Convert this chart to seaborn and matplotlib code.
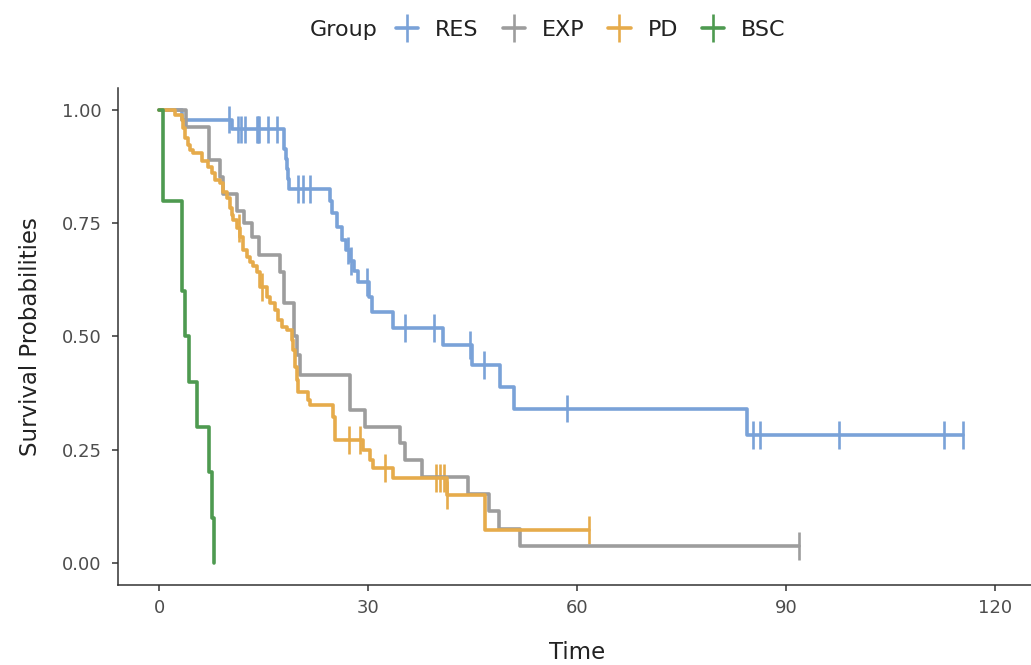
import numpy as np
import pandas as pd
import seaborn as sns
import matplotlib.pyplot as plt
from matplotlib.lines import Line2D

# Kaplan-Meier step curves (time where S changes, S after)
groups = ["RES", "EXP", "PD", "BSC"]
colors = ["#7aa2d8", "#9d9d9d", "#e6ab4b", "#4e9a50"]

res_time = [0, 3.3, 10.4, 17.9, 18.0, 18.2, 18.35, 18.5, 18.7, 24.5, 24.8, 25.5, 26.2,
            26.9, 27.4, 28.0, 28.5, 30.2, 30.5, 33.6, 40.8, 44.9, 48.9, 50.9, 84.4]
res_surv = [1.0, 0.979, 0.957, 0.935, 0.913, 0.891, 0.869, 0.847, 0.826, 0.80, 0.772, 0.742, 0.713,
            0.69, 0.667, 0.644, 0.621, 0.588, 0.555, 0.518, 0.481, 0.437, 0.389, 0.341, 0.283]
res_cens = [9.98, 11.3, 11.8, 12.3, 14.0, 14.2, 14.4, 15.6, 16.9, 20.0, 20.7, 21.7, 27.15,
            27.6, 29.9, 35.3, 39.5, 44.6, 46.6, 58.6, 85.3, 86.3, 97.6, 112.7, 115.5]

exp_time = [0, 3.8, 7.1, 8.75, 9.2, 11.2, 12.2, 13.3, 14.3, 17.4, 17.9, 19.3, 19.8, 20.2,
            27.4, 29.6, 34.6, 35.3, 37.7, 44.4, 47.3, 48.8, 51.8]
exp_surv = [1.0, 0.963, 0.889, 0.852, 0.815, 0.778, 0.75, 0.72, 0.68, 0.643, 0.573, 0.50, 0.46, 0.415,
            0.338, 0.301, 0.264, 0.227, 0.19, 0.152, 0.114, 0.076, 0.038]
exp_cens = [91.9]

pd_time = [0, 2.3, 3.26, 3.49, 3.73, 4.21, 4.45, 4.92, 6.13, 7.08, 7.56, 8.04, 8.76, 9.23,
           9.72, 10.19, 10.43, 10.66, 11.15, 11.63, 12.10, 12.59, 13.06, 13.54, 14.02, 14.50,
           15.46, 15.93, 16.65, 17.12, 17.61, 18.33, 19.05, 19.28, 19.52, 19.76, 19.99, 21.43,
           21.67, 25.02, 25.26, 29.32, 30.29, 30.76, 33.63, 41.3, 46.79]
pd_surv = [1.0, 0.989, 0.978, 0.96, 0.938, 0.923, 0.912, 0.904, 0.887, 0.875, 0.86, 0.845, 0.838, 0.82,
           0.805, 0.783, 0.768, 0.757, 0.739, 0.72, 0.69, 0.675, 0.664, 0.655, 0.643, 0.61,
           0.588, 0.573, 0.558, 0.536, 0.522, 0.514, 0.492, 0.47, 0.433, 0.404, 0.378, 0.36,
           0.348, 0.323, 0.272, 0.25, 0.227, 0.209, 0.187, 0.15, 0.073]
pd_cens = [11.5, 14.7, 27.3, 28.8, 32.4, 39.8, 40.4, 40.9, 41.4, 61.8]

bsc_time = [0, 0.6, 3.25, 3.7, 4.35, 5.5, 7.2, 7.55, 7.9]
bsc_surv = [1.0, 0.8, 0.6, 0.5, 0.4, 0.3, 0.2, 0.1, 0.0]
bsc_cens = []

x_ticks = [0, 30, 60, 90, 120]
y_ticks = [0.0, 0.25, 0.5, 0.75, 1.0]

all_time = [res_time, exp_time, pd_time, bsc_time]
all_surv = [res_surv, exp_surv, pd_surv, bsc_surv]
all_cens = [res_cens, exp_cens, pd_cens, bsc_cens]

lines = []
marks = []
for g, t, s, c in zip(groups, all_time, all_surv, all_cens):
    t = list(t)
    s = list(s)
    end = max([t[-1]] + c)
    if end > t[-1]:
        t.append(end)
        s.append(s[-1])
    lines.append(pd.DataFrame({"Time": t, "Surv": s, "Group": g}))
    if c:
        idx = np.searchsorted(t, c, side="right") - 1
        marks.append(pd.DataFrame({"Time": c, "Surv": np.array(s)[idx], "Group": g}))
lines = pd.concat(lines, ignore_index=True)
marks = pd.concat(marks, ignore_index=True)

sns.set_theme(style="ticks")
plt.rcParams["font.family"] = ["DejaVu Sans"]
pal = dict(zip(groups, colors))

fig = plt.figure(figsize=(10.31, 6.65), dpi=100)
ax = fig.add_axes([0.1145, 0.1203, 0.8855, 0.7474])

sns.lineplot(data=lines, x="Time", y="Surv", hue="Group", hue_order=groups, palette=pal,
             estimator=None, sort=False, drawstyle="steps-post", lw=2.6, legend=False, ax=ax)
sns.scatterplot(data=marks, x="Time", y="Surv", hue="Group", hue_order=groups, palette=pal,
                marker="|", s=400, linewidth=1.9, legend=False, ax=ax)

ax.set_xlim(-5.9, 125.2)
ax.set_ylim(-0.0486, 1.0486)
ax.set_xticks(x_ticks)
ax.set_yticks(y_ticks)
ax.set_yticklabels([f"{v:.2f}" for v in y_ticks])
sns.despine(ax=ax)
for sp in ["left", "bottom"]:
    ax.spines[sp].set_color("#333333")
    ax.spines[sp].set_linewidth(1.1)
ax.tick_params(axis="both", colors="#333333", labelcolor="#4d4d4d", labelsize=13,
               length=4, width=1.1)
ax.tick_params(axis="y", pad=8)
ax.tick_params(axis="x", pad=6)

ax.set_xlabel("Time", fontsize=16.5, color="#222222", va="center")
ax.set_ylabel("Survival Probabilities", fontsize=16.5, color="#222222", va="center")
ax.xaxis.set_label_coords(0.503, -0.135)
ax.yaxis.set_label_coords(-0.0964, 0.5)

fig.text(310 / 1031, 0.955, "Group", fontsize=16, color="#222222", ha="left", va="center")
handles = [Line2D([], [], color=c, lw=2.6, marker="|", markersize=20, mew=1.9) for c in colors]
fig.legend(handles, groups, loc="center left", bbox_to_anchor=(396 / 1031, 0.955), ncol=4,
           frameon=False, fontsize=16, handlelength=1.0, handletextpad=0.77,
           columnspacing=1.07, borderpad=0, borderaxespad=0, labelcolor="#222222")

fig.savefig("out.png", dpi=100)
